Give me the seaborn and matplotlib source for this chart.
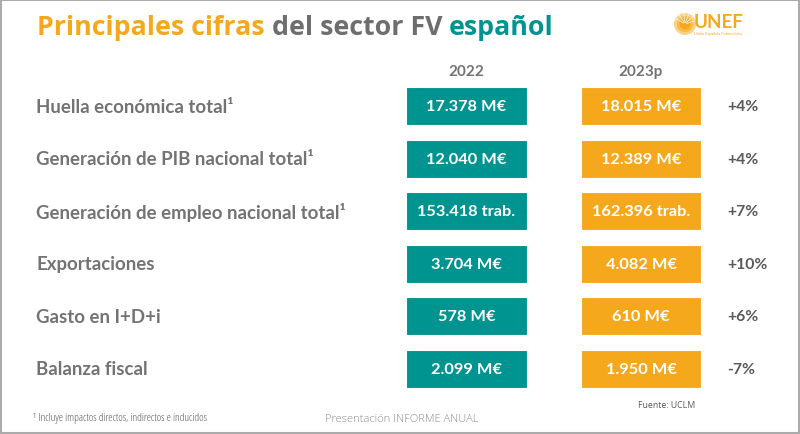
"""Tabla de cifras principales del sector FV español (recreación con seaborn)."""

import matplotlib

matplotlib.use("Agg")

import matplotlib.patches as mpatches
import matplotlib.pyplot as plt
import matplotlib.transforms as mtransforms
import numpy as np
import pandas as pd
import seaborn as sns

# Datos de la tabla
indicadores = [
    "Huella económica total¹",
    "Generación de PIB nacional total¹",
    "Generación de empleo nacional total¹",
    "Exportaciones",
    "Gasto en I+D+i",
    "Balanza fiscal",
]
anios = ["2022", "2023p"]
valores_2022 = ["17.378 M€", "12.040 M€", "153.418 trab.", "3.704 M€", "578 M€", "2.099 M€"]
valores_2023 = ["18.015 M€", "12.389 M€", "162.396 trab.", "4.082 M€", "610 M€", "1.950 M€"]
variaciones = ["+4%", "+4%", "+7%", "+10%", "+6%", "-7%"]

TEAL = "#009490"
NARANJA = "#F6A81C"
GRIS = "#737373"
GRIS_OSCURO = "#5a5a5a"
FUENTE = ["Lato", "DejaVu Sans"]
FUENTE_TITULO = ["Open Sans", "DejaVu Sans"]

W, H = 800, 435


def px_x(x):
    return x / W


def px_y(y):
    return 1 - y / H


def dibujar_columna(fig, left, width, valores, color, anio):
    """Dibuja una columna de cajas (barras horizontales) con su cabecera."""
    top, bottom = 81, 396
    ax = fig.add_axes([px_x(left), px_y(bottom), px_x(width), (bottom - top) / H])
    df = pd.DataFrame({"indicador": indicadores, "ancho": np.ones(len(indicadores))})
    sns.barplot(data=df, y="indicador", x="ancho", color=color, width=0.725,
                saturation=1, edgecolor="white", linewidth=0.8, ax=ax)
    ax.set_xlim(0, 1)
    ax.set_axis_off()
    for i, texto in enumerate(valores):
        ax.text(0.5, i, texto, ha="center", va="center", color="white",
                fontsize=11.8, fontweight="bold", family=FUENTE)
    fig.text(px_x(left + width / 2), px_y(72), anio, ha="center", va="center",
             color=GRIS, fontsize=11, fontweight="bold", family=FUENTE)
    return ax


def dibujar_titulo(fig):
    """Título en tres colores, colocado pieza a pieza."""
    piezas = [("Principales cifras ", NARANJA), ("del sector FV ", "#6e6e6e"), ("español", TEAL)]
    renderer = fig.canvas.get_renderer()
    x = px_x(37)
    for texto, color in piezas:
        t = fig.text(x, px_y(28), texto, ha="left", va="center", color=color,
                     fontsize=19.3, fontweight="bold", family=FUENTE_TITULO)
        bb = t.get_window_extent(renderer=renderer)
        x += bb.width / fig.bbox.width


def dibujar_logo(fig):
    """Logo UNEF simplificado."""
    ax = fig.add_axes([px_x(674), px_y(36), px_x(22), 22 / H])
    ax.set_xlim(-1, 1)
    ax.set_ylim(-1, 1)
    ax.set_aspect("equal")
    ax.set_axis_off()
    for r, c in zip([1.0, 0.75, 0.5], ["#FBD38A", "#F8BC4E", NARANJA]):
        ax.add_patch(mpatches.Circle((0, 0), r, color=c, lw=0))
    for ang in np.linspace(0.3, 2.6, 6):
        ax.plot([0.15 * np.cos(ang), np.cos(ang)], [0.15 * np.sin(ang), np.sin(ang)],
                color="white", lw=0.6, alpha=0.8)
    fig.text(px_x(694), px_y(22), "UNEF", ha="left", va="center", color=NARANJA,
             fontsize=13.5, fontweight="bold", family=FUENTE)
    fig.text(px_x(694), px_y(34), "Unión Española Fotovoltaica", ha="left", va="center",
             color=NARANJA, fontsize=2.8, family=FUENTE)


def main():
    sns.set_theme(style="white")
    plt.rcParams["font.family"] = FUENTE

    fig = plt.figure(figsize=(W / 100, H / 100), dpi=100)
    fig.patch.set_facecolor("white")

    ax1 = dibujar_columna(fig, 406, 121, valores_2022, TEAL, anios[0])
    dibujar_columna(fig, 581, 120, valores_2023, NARANJA, anios[1])

    # Etiquetas de filas y variaciones (x en figura, y en datos)
    trans = mtransforms.blended_transform_factory(fig.transFigure, ax1.transData)
    for i, (nombre, var) in enumerate(zip(indicadores, variaciones)):
        fig.text(px_x(36), i, nombre, transform=trans, ha="left", va="center",
                 color=GRIS, fontsize=13.4, fontweight="bold")
        fig.text(px_x(727), i, var, transform=trans, ha="left", va="center",
                 color=GRIS_OSCURO, fontsize=11.3, fontweight="bold")

    dibujar_titulo(fig)
    dibujar_logo(fig)

    # Pie de página
    fig.text(px_x(33), px_y(419), "¹ Incluye impactos directos, indirectos e inducidos",
             ha="left", va="center", color=GRIS_OSCURO, fontsize=7.9,
             family=FUENTE_TITULO, fontstretch="condensed")
    fig.text(px_x(325), px_y(420), "Presentación INFORME ANUAL", ha="left", va="center",
             color="#8a8a8a", fontsize=8, fontweight="light", family=FUENTE_TITULO)
    fig.text(px_x(695), px_y(406), "Fuente: UCLM", ha="right", va="center",
             color=GRIS_OSCURO, fontsize=6.3, family=FUENTE_TITULO)

    # Marco gris
    fig.add_artist(mpatches.Rectangle((0.001, 0.002), 0.998, 0.996, transform=fig.transFigure,
                                      fill=False, edgecolor="#ababab", linewidth=1.5))

    fig.savefig("out.png", dpi=100)
    plt.close(fig)


if __name__ == "__main__":
    main()
